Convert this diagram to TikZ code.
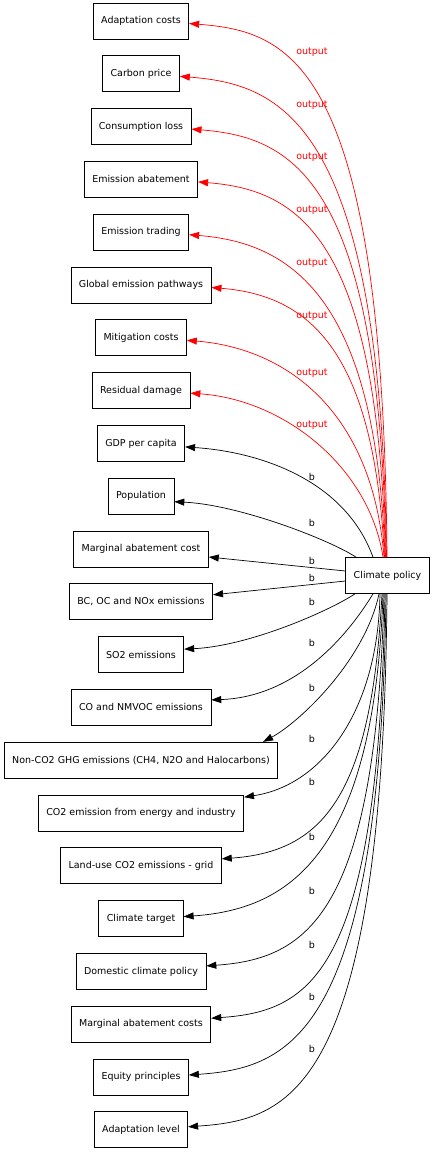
\documentclass[tikz,border=0pt]{standalone}
\usepackage{fontspec}
\setmainfont{DejaVu Sans}
\usetikzlibrary{arrows.meta, calc}

\begin{document}
\begin{tikzpicture}
      [x=1pt, y=-1pt, line width=0.7pt,
       font=\fontsize{9.5}{11}\selectfont,
       >={Triangle[length=10pt,width=7pt]},
       var/.style={rectangle,draw=black,minimum height=36pt,minimum width=54pt,inner xsep=8pt},
       lbl/.style={inner sep=0pt}]
      \useasboundingbox (0,0) rectangle (434,1152);

      \node (Pol) at (387.5,575.5) [var] {Climate policy};

      \node (AdC)  at (141,21)     [var] {Adaptation costs};
      \node (CPr)  at (141,73.8)   [var] {Carbon price};
      \node (CL)   at (141,126.6)  [var] {Consumption loss};
      \node (EA)   at (141,179.4)  [var] {Emission abatement};
      \node (ET)   at (141,232.2)  [var] {Emission trading};
      \node (GEP)  at (141,285)    [var] {Global emission pathways};
      \node (MC)   at (141,337.8)  [var] {Mitigation costs};
      \node (RD)   at (141,390.6)  [var] {Residual damage};
      \node (GDP)  at (141,443.4)  [var] {GDP per capita};
      \node (Pop)  at (141,496.2)  [var] {Population};
      \node (MAC)  at (141,549)    [var] {Marginal abatement cost};
      \node (BC)   at (141,601.8)  [var] {BC, OC and NOx emissions};
      \node (SO2)  at (141,654.6)  [var] {SO2 emissions};
      \node (CO)   at (141,707.4)  [var] {CO and NMVOC emissions};
      \node (NCO2) at (141,760.2)  [var] {Non-CO2 GHG emissions (CH4, N2O and Halocarbons)};
      \node (CO2)  at (141,813)    [var] {CO2 emission from energy and industry};
      \node (LU)   at (141,865.8)  [var] {Land-use CO2 emissions - grid};
      \node (CT)   at (141,918.6)  [var] {Climate target};
      \node (DCP)  at (141,971.4)  [var] {Domestic climate policy};
      \node (MACs) at (141,1024.2) [var] {Marginal abatement costs};
      \node (EP)   at (141,1077)   [var] {Equity principles};
      \node (AdL)  at (141,1129.8) [var] {Adaptation level};

      \draw[->, red] ($(Pol.north)+(-0.5,0)$) .. controls (383,60.5) and +(100,8) .. ($(AdC.east)+(0,2.5)$);
      \draw[->, red] ($(Pol.north)+(-1,0)$) .. controls (381,119) and +(100,8) .. ($(CPr.east)+(0,2.5)$);
      \draw[->, red] ($(Pol.north)+(-1.5,0)$) .. controls (379.5,177.5) and +(100,8) .. ($(CL.east)+(0,2.5)$);
      \draw[->, red] ($(Pol.north)+(-2,0)$) .. controls (377.5,236) and +(100,8) .. ($(EA.east)+(0,2.5)$);
      \draw[->, red] ($(Pol.north)+(-2.5,0)$) .. controls (376,294.5) and +(100,8) .. ($(ET.east)+(0,2.5)$);
      \draw[->, red] ($(Pol.north)+(-3,0)$) .. controls (374,353) and +(100,8) .. ($(GEP.east)+(0,2.5)$);
      \draw[->, red] ($(Pol.north)+(-3.5,0)$) .. controls (372.5,411.5) and +(100,8) .. ($(MC.east)+(0,2.5)$);
      \draw[->, red] ($(Pol.north)+(-4.5,0)$) .. controls (370,470) and +(97,7) .. ($(RD.east)+(0,2.5)$);

      \draw[->] ($(Pol.north)+(-14.5,0)$) .. controls (345,480) and +(75,5) .. ($(GDP.east)+(0,3.5)$);
      \draw[->] ($(Pol.north)+(-31.5,0)$) .. controls (330,540) and +(65,3) .. ($(Pop.east)+(0,5.5)$);
      \draw[->] ($(Pol.west)+(0,-4.5)$) -- ($(MAC.east)+(0,8)$);
      \draw[->] ($(Pol.west)+(0,5.5)$) -- ($(BC.east)+(0,-7)$);
      \draw[->] ($(Pol.south)+(-32.5,0)$) .. controls (329,611) and +(65,-3) .. ($(SO2.east)+(0,-5.5)$);
      \draw[->] ($(Pol.south)+(-14.5,0)$) .. controls (345,640) and +(82,-3) .. ($(CO.east)+(0,-7.5)$);
      \draw[->] ($(Pol.south)+(-8.5,0)$) .. controls (365,660) and +(37,-20) .. ($(NCO2.north east)+(-15,0)$);
      \draw[->] ($(Pol.south)+(-7.5,0)$) .. controls (378,710) and +(79,-12) .. ($(CO2.north east)+(0,2.5)$);
      \draw[->] ($(Pol.south)+(-5.5,0)$) .. controls (371.5,798) and +(100,-7) .. ($(LU.east)+(0,-7)$);
      \draw[->] ($(Pol.south)+(-4.5,0)$) .. controls (374,862) and +(100,-7) .. ($(CT.east)+(0,-2)$);
      \draw[->] ($(Pol.south)+(-3.5,0)$) .. controls (376,916.5) and +(100,-7) .. ($(DCP.east)+(0,-5.5)$);
      \draw[->] ($(Pol.south)+(-2.5,0)$) .. controls (378.5,974) and +(100,-7) .. ($(MACs.east)+(0,-6)$);
      \draw[->] ($(Pol.south)+(-1.5,0)$) .. controls (380.5,1037) and +(100,-7) .. ($(EP.east)+(0,-2)$);
      \draw[->] ($(Pol.south)+(-0.5,0)$) .. controls (383,1095) and +(100,-7) .. ($(AdL.east)+(0,-3)$);

      % edge labels
      \node (o1) at (312,52)  [lbl, red] {output};
      \node (o2) at (312,105) [lbl, red] {output};
      \node (o3) at (312,157) [lbl, red] {output};
      \node (o4) at (312,210) [lbl, red] {output};
      \node (o5) at (312,263) [lbl, red] {output};
      \node (o6) at (312,316) [lbl, red] {output};
      \node (o7) at (312,373) [lbl, red] {output};
      \node (o8) at (312,425) [lbl, red] {output};

      \node (b1)  at (312,477)  [lbl] {b};
      \node (b2)  at (312,523)  [lbl] {b};
      \node (b3)  at (312,561)  [lbl] {b};
      \node (b4)  at (312,578)  [lbl] {b};
      \node (b5)  at (312,602)  [lbl] {b};
      \node (b6)  at (312,643)  [lbl] {b};
      \node (b7)  at (312,688)  [lbl] {b};
      \node (b8)  at (312,739)  [lbl] {b};
      \node (b9)  at (312,782)  [lbl] {b};
      \node (b10) at (312,837)  [lbl] {b};
      \node (b11) at (312,891)  [lbl] {b};
      \node (b12) at (312,945)  [lbl] {b};
      \node (b13) at (312,997)  [lbl] {b};
      \node (b14) at (312,1049) [lbl] {b};
\end{tikzpicture}
\end{document}
